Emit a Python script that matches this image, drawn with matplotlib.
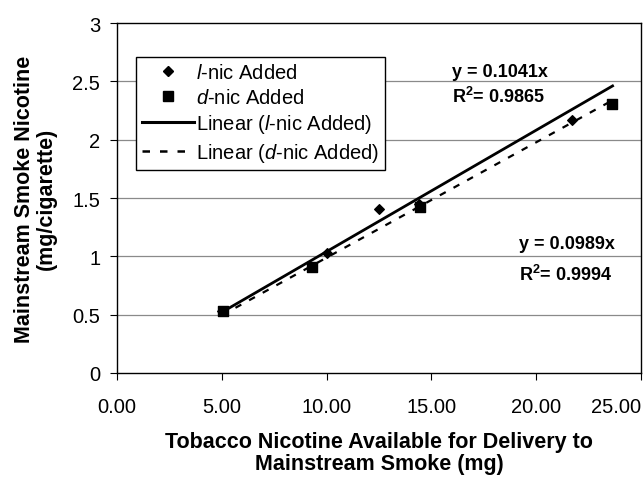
import numpy as np
import matplotlib
matplotlib.use("Agg")
import matplotlib.pyplot as plt
from matplotlib.lines import Line2D

plt.rcParams['font.family'] = ['Liberation Sans', 'DejaVu Sans']
plt.rcParams['mathtext.fontset'] = 'custom'
plt.rcParams['mathtext.rm'] = 'Liberation Sans'
plt.rcParams['mathtext.it'] = 'Liberation Sans:italic'
plt.rcParams['mathtext.bf'] = 'Liberation Sans:bold'

# Measured nicotine data
l_x = [5.0, 10.0, 12.5, 14.4, 21.7]
l_y = [0.53, 1.03, 1.41, 1.45, 2.17]
d_x = [5.05, 9.28, 14.44, 23.6]
d_y = [0.53, 0.91, 1.42, 2.31]

# Zero-intercept linear fits
l_slope, l_r2 = 0.1041, 0.9865
d_slope, d_r2 = 0.0989, 0.9994
fit_range = [5.0, 23.64]

x_ticks = [0, 5, 10, 15, 20, 25]
y_ticks = [0, 0.5, 1, 1.5, 2, 2.5, 3]

fig = plt.figure(figsize=(6.43, 4.81), dpi=100)
ax = fig.add_axes([0.1820, 0.2225, 0.8150, 0.7275])

for yv in y_ticks[1:-1]:
    ax.axhline(yv, color='#8a8a8a', lw=0.9, zorder=0)

fx = np.array(fit_range)
ax.plot(fx, l_slope * fx, color='black', lw=2.0, zorder=2)
ax.plot(fx, d_slope * fx, color='black', lw=1.6, ls=(0, (3, 4)), zorder=2)
ax.scatter(l_x, l_y, marker='D', s=24, color='black', zorder=3)
ax.scatter(d_x, d_y, marker='s', s=48, color='black', zorder=3)

ax.set_xlim(0, 25)
ax.set_ylim(0, 3)
ax.set_xticks(x_ticks)
ax.set_xticklabels([f"{v:.2f}" for v in x_ticks])
ax.set_yticks(y_ticks)
ax.set_yticklabels(["0", "0.5", "1", "1.5", "2", "2.5", "3"])
ax.tick_params(axis='both', direction='out', length=5, width=0.8, labelsize=14.5)
ax.tick_params(axis='x', pad=12)
ax.tick_params(axis='y', pad=7)
# keep the last x label inside the figure
ax.get_xticklabels()[-1].set_horizontalalignment('right')
for sp in ax.spines.values():
    sp.set_linewidth(1.0)
    sp.set_color('black')

ax.set_xlabel("Tobacco Nicotine Available for Delivery to\nMainstream Smoke (mg)",
              fontsize=15.5, fontweight='bold', labelpad=11, linespacing=1.1)
ax.set_ylabel("Mainstream Smoke Nicotine\n(mg/cigarette)",
              fontsize=15.5, fontweight='bold', labelpad=11, linespacing=1.1)

ax.text(15.97, 2.55, f"y = {l_slope:.4f}x", fontsize=13, fontweight='bold')
ax.text(15.97, 2.32, f"R$^\\mathbf{{2}}$= {l_r2:.4f}", fontsize=13, fontweight='bold')
ax.text(19.2, 1.07, f"y = {d_slope:.4f}x", fontsize=13, fontweight='bold')
ax.text(19.2, 0.80, f"R$^\\mathbf{{2}}$= {d_r2:.4f}", fontsize=13, fontweight='bold')

handles = [
    Line2D([], [], marker='D', color='black', ls='none', markersize=5.5),
    Line2D([], [], marker='s', color='black', ls='none', markersize=7.5),
    Line2D([], [], color='black', lw=2.2),
    Line2D([], [], color='black', lw=1.8, ls=(0, (3, 4))),
]
labels = [
    "$\\mathit{l}$-nic Added",
    "$\\mathit{d}$-nic Added",
    "Linear ($\\mathit{l}$-nic Added)",
    "Linear ($\\mathit{d}$-nic Added)",
]
leg = ax.legend(handles, labels, loc='upper left', bbox_to_anchor=(0.036, 0.902),
                fontsize=14.5, frameon=True, fancybox=False, edgecolor='black',
                framealpha=1, borderpad=0.3, handlelength=2.6, handletextpad=0.1,
                labelspacing=0.27, borderaxespad=0)
leg.get_frame().set_linewidth(1.0)

fig.savefig("out.png", dpi=100)
